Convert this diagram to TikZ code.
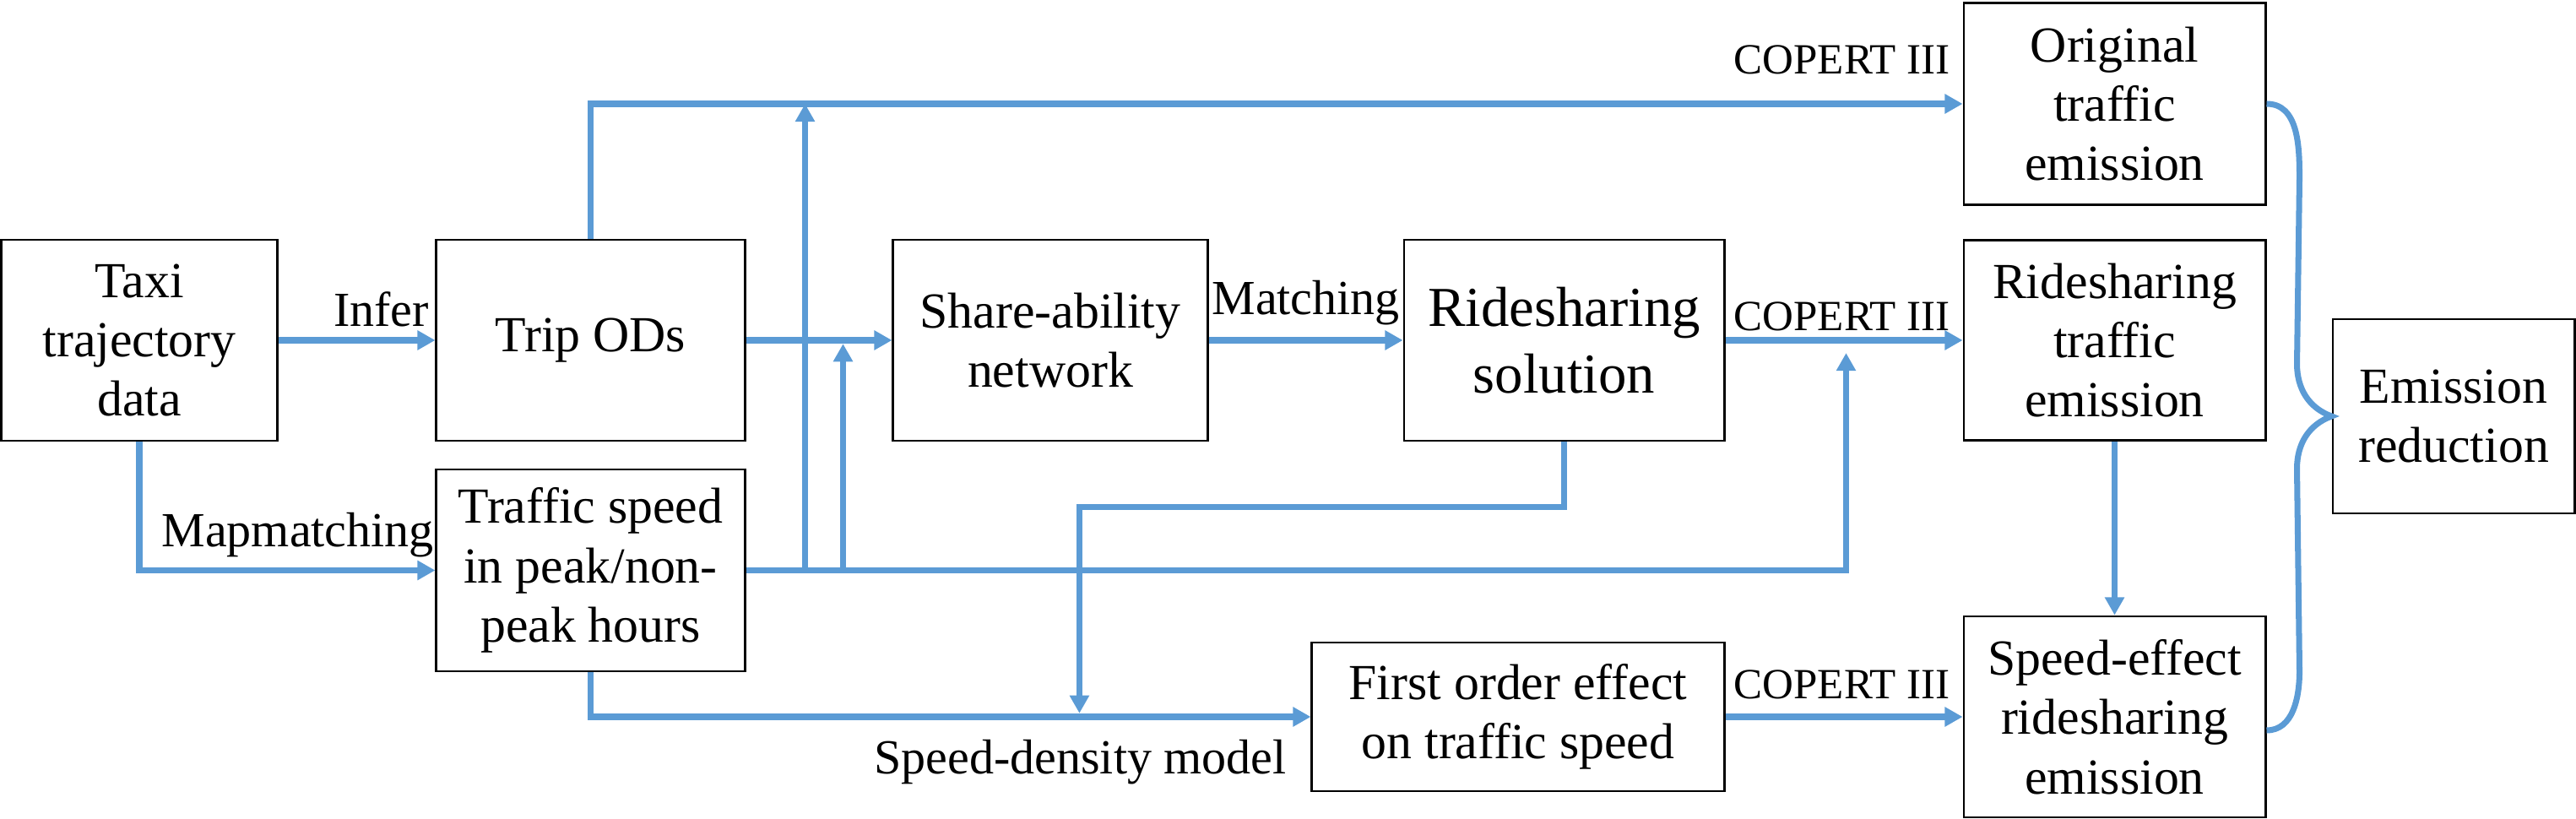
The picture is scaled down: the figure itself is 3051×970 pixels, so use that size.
\documentclass[tikz,border=0pt]{standalone}
\usepackage{fontspec}
\setmainfont{Liberation Serif}
\usetikzlibrary{arrows.meta}
\usetikzlibrary{calc}
\definecolor{flowblue}{RGB}{91,155,213}

\begin{document}
\begin{tikzpicture}[x=0.01cm, y=0.01cm,
        box/.style={draw, line width=0.8pt, align=center, inner sep=0pt, font=\fontsize{17}{20}\selectfont},
        lbl/.style={inner sep=0pt, font=\fontsize{16.5}{20}\selectfont},
        copert/.style={inner sep=0pt, font=\fontsize{14.5}{17}\selectfont},
        flow/.style={flowblue, line width=2pt, -{Triangle[length=6pt,width=6.3pt]}},
        link/.style={flowblue, line width=2pt}]
            \useasboundingbox (0,0) rectangle (3051,970);

            % Data and first steps
            \node[box, minimum width=3.26cm, minimum height=2.38cm] (taxi) at (165,567) {Taxi\\trajectory\\data};
            \node[box, minimum width=3.65cm, minimum height=2.38cm] (trip) at (699.5,567) {Trip ODs};
            \node[box, minimum width=3.65cm, minimum height=2.39cm] (speed) at (699.5,294.5) {Traffic speed\\in peak/non-\\peak hours};
            \node[box, minimum width=3.72cm, minimum height=2.38cm] (share) at (1244,567) {Share-ability\\network};
            \node[box, minimum width=3.79cm, minimum height=2.38cm, font=\fontsize{19}{22.5}\selectfont] (sol) at (1852.5,567) {Ridesharing\\solution};
            \node[box, minimum width=4.88cm, minimum height=1.76cm] (first) at (1798,121) {First order effect\\on traffic speed};

            % Emissions
            \node[box, minimum width=3.57cm, minimum height=2.39cm] (orig) at (2504.5,847) {Original\\traffic\\emission};
            \node[box, minimum width=3.57cm, minimum height=2.37cm] (rideem) at (2504.5,567) {Ridesharing\\traffic\\emission};
            \node[box, minimum width=3.57cm, minimum height=2.38cm] (speedem) at (2504.5,121) {Speed-effect\\ridesharing\\emission};
            \node[box, minimum width=2.86cm, minimum height=2.30cm] (emred) at (2906,477) {Emission\\reduction};

            % Junctions on the speed line
            \coordinate (jA) at ($(speed.east)+(70,0)$);
            \coordinate (jB) at ($(speed.east)+(115,0)$);
            \coordinate (jC) at ($(rideem.west)+(-138,0)$);
            \coordinate (jD) at ($(first.west)+(-274,0)$);

            % Arrows
            \draw[flow] (taxi) -- (trip);
            \draw[flow] (taxi.south) |- (speed.west);
            \draw[flow] (trip.north) |- (orig.west);
            \draw[flow] (trip) -- (share);
            \draw[flow] (share) -- (sol);
            \draw[flow] (sol) -- (rideem);
            \draw[flow, shorten >=4.3pt] (speed.east) -| (jC);
            \draw[flow] (jA) -- (jA |- orig.west);
            \draw[flow, shorten >=1.2pt] (jB) -- (jB |- share.west);
            \draw[flow, shorten >=1.2pt] (sol.south) -- ++(0,-77) -| (jD);
            \draw[flow] (speed.south) |- (first.west);
            \draw[flow] (first) -- (speedem);
            \draw[flow] (rideem) -- (speedem);

            % Brace
            \draw[link] (orig.east) to[out=0,in=90] ++(39,-88) -- ($(emred.west)+(-41,62)$)
                to[out=-90,in=160] (emred.west) to[out=200,in=90] ++(-41,-62)
                -- ($(speedem.east)+(39,54)$) to[out=-90,in=0] ($(speedem.east)+(0,-16)$);

            % Labels
            \node[lbl, anchor=base east] (infer) at ([shift={(-7,16)}]trip.west) {Infer};
            \node[lbl, anchor=base east] (mapm) at ([shift={(-1,28)}]speed.west) {Mapmatching};
            \node[lbl, anchor=base east] (match) at ([shift={(-3,30)}]sol.west) {Matching};
            \node[lbl, anchor=base east] (sdm) at ([shift={(-28,-68)}]first.west) {Speed-density model};
            \node[copert, anchor=base east] (cop1) at ([shift={(-14,35)}]orig.west) {COPERT III};
            \node[copert, anchor=base east] (cop2) at ([shift={(-14,11)}]rideem.west) {COPERT III};
            \node[copert, anchor=base east] (cop3) at ([shift={(-14,21)}]speedem.west) {COPERT III};
        \end{tikzpicture}
\end{document}
